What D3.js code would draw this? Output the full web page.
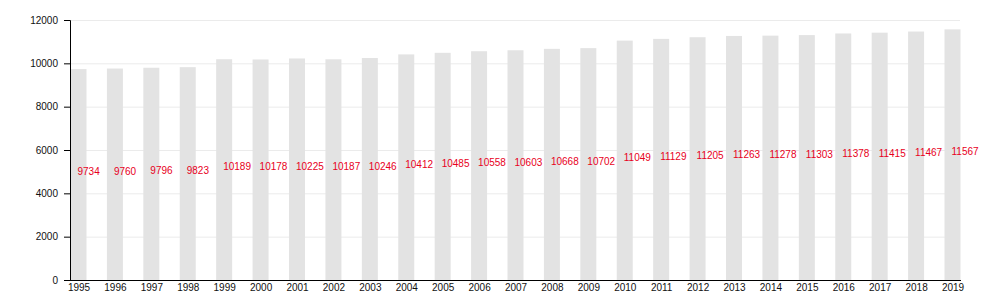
<!DOCTYPE html>
<html lang="en">
<head>
    <meta charset="UTF-8">
    <title>Yearly values 1995-2019</title>
    <style>
        body { margin: 0; background: #fff; }
        #chart { width: 1000px; height: 300px; }
        text { font-family: "Liberation Sans", Arial, sans-serif; }
    </style>
</head>
<body>
    <div id="chart"></div>

    <script src="https://d3js.org/d3.v7.min.js"></script>
    <script>
        const years = ["1995", "1996", "1997", "1998", "1999", "2000", "2001", "2002", "2003",
            "2004", "2005", "2006", "2007", "2008", "2009", "2010", "2011", "2012", "2013",
            "2014", "2015", "2016", "2017", "2018", "2019"];
        const values = [9734, 9760, 9796, 9823, 10189, 10178, 10225, 10187, 10246,
            10412, 10485, 10558, 10603, 10668, 10702, 11049, 11129, 11205, 11263,
            11278, 11303, 11378, 11415, 11467, 11567];
        const yTicks = [0, 2000, 4000, 6000, 8000, 10000, 12000];

        const width = 1000, height = 300;
        const margin = { left: 70, right: 961, top: 20, bottom: 280 };

        const svg = d3.select("#chart")
            .append("svg")
                .attr("width", width)
                .attr("height", height);

        // bar centres
        const x = d3.scalePoint()
            .domain(years)
            .range([78.5, 952.5]);

        const y = d3.scaleLinear()
            .domain([0, 12000])
            .range([margin.bottom, margin.top]);

        // grid lines
        svg.append("g")
            .selectAll("line")
            .data(yTicks.slice(1))
            .enter()
            .append("line")
            .attr("x1", margin.left)
            .attr("x2", 960)
            .attr("y1", d => y(d) + 0.5)
            .attr("y2", d => y(d) + 0.5)
            .attr("stroke", "#ebebeb")
            .attr("stroke-width", 1);

        // bars
        const barW = 16;
        svg.append("g")
            .selectAll("rect")
            .data(values)
            .enter()
            .append("rect")
            .attr("x", (d, i) => x(years[i]) - barW / 2)
            .attr("y", d => y(d))
            .attr("width", barW)
            .attr("height", d => margin.bottom - y(d))
            .attr("fill", "#e3e3e3");

        // value labels at half height
        svg.append("g")
            .selectAll("text")
            .data(values)
            .enter()
            .append("text")
            .attr("x", (d, i) => x(years[i]) - 1)
            .attr("y", d => y(d / 2) - 3)
            .attr("dy", "0.35em")
            .attr("font-size", 10)
            .attr("fill", "#e8001c")
            .text(d => d);

        // Y axis
        const yAxis = svg.append("g")
            .attr("transform", `translate(${margin.left},0)`)
            .call(d3.axisLeft(y).tickValues(yTicks).tickSize(6).tickPadding(6).tickFormat(d3.format("d")));
        yAxis.select(".domain").attr("stroke", "#000");
        yAxis.selectAll("text").attr("font-size", 10).attr("fill", "#111")
            .style("font-family", "'Liberation Sans', Arial, sans-serif");

        // X axis
        const xAxis = svg.append("g")
            .attr("transform", `translate(0,${margin.bottom})`)
            .call(d3.axisBottom(x).tickSize(0).tickPadding(4));
        xAxis.select(".domain").attr("d", `M${margin.left},0.5H${margin.right}`).attr("stroke", "#000");
        xAxis.selectAll("text").attr("font-size", 10).attr("fill", "#111")
            .style("font-family", "'Liberation Sans', Arial, sans-serif");
    </script>
</body>
</html>
